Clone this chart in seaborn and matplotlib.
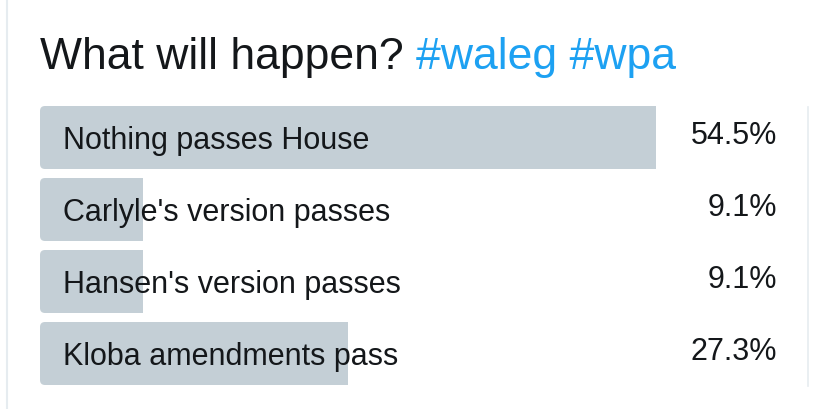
import matplotlib
matplotlib.use("Agg")
import matplotlib.pyplot as plt
import seaborn as sns
import pandas as pd
from matplotlib.patches import FancyBboxPatch
from matplotlib.lines import Line2D

options = ["Nothing passes House", "Carlyle's version passes",
           "Hansen's version passes", "Kloba amendments pass"]
percents = [54.5, 9.1, 9.1, 27.3]
pct_labels = ["54.5%", "9.1%", "9.1%", "27.3%"]
title_text = "What will happen?"
hashtags = "#waleg #wpa"

df = pd.DataFrame({"option": options, "percent": percents})

sns.set_theme(style="white")
plt.rcParams["font.family"] = ["Liberation Sans", "DejaVu Sans"]

W, H, DPI = 830, 410, 100
fig = plt.figure(figsize=(W / DPI, H / DPI), dpi=DPI)
fig.patch.set_facecolor("white")
ax = fig.add_axes([40 / W, 1 - 390.5 / H, 768 / W, 288 / H])

bar_color = "#C4CFD6"
text_color = "#14171A"
sns.barplot(data=df, y="option", x="percent", orient="h", color=bar_color,
            width=0.875, saturation=1, ax=ax)
ax.set_xlim(0, 768 / 11.3)
ax.set_ylim(3.5, -0.5)
ax.set_xlabel("")
ax.set_ylabel("")
ax.set_xticks([])
ax.set_yticks([])
for s in ["top", "left", "bottom"]:
    ax.spines[s].set_visible(False)
ax.spines["right"].set_color("#E6ECF0")
ax.spines["right"].set_linewidth(1.2)
ax.spines["right"].set_bounds(3.45, -0.42)

fig.canvas.draw()
for p in ax.patches:
    bb = p.get_window_extent()
    clip = FancyBboxPatch((bb.x0, bb.y0), bb.width + 30, bb.height,
                          boxstyle="round,pad=0,rounding_size=5",
                          transform=None, facecolor="none", edgecolor="none")
    p.set_clip_path(clip)
    p.set_edgecolor("none")

for i, (opt, lab) in enumerate(zip(options, pct_labels)):
    ax.text(23 / 11.3, i + 0.03, opt, ha="left", va="center",
            fontsize=22, color=text_color)
    ax.text(737 / 11.3, i - 0.03, lab, ha="right", va="center",
            fontsize=22, color=text_color)

t1 = fig.text(40 / W, 1 - 58 / H, title_text + " ", ha="left", va="center",
              fontsize=32, color=text_color)
fig.canvas.draw()
bb = t1.get_window_extent()
fig.text(bb.x1 / W, 1 - 58 / H, hashtags, ha="left", va="center",
         fontsize=32, color="#1DA1F2")

fig.add_artist(Line2D([7 / W, 7 / W], [0, 1], color="#E6ECF0", lw=1.5,
                      transform=fig.transFigure))

fig.savefig("out.png", dpi=DPI)
